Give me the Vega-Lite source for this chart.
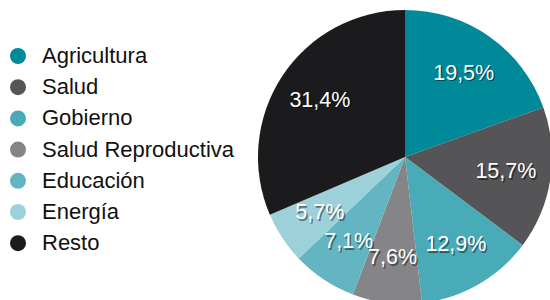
{
  "$schema": "https://vega.github.io/schema/vega-lite/v6.json",
  "width": 290,
  "height": 286,
  "autosize": {"type": "none"},
  "padding": {"left": 260, "top": 14, "right": 0, "bottom": 0},
  "background": "white",
  "config": {
    "view": {"stroke": null},
    "font": "Liberation Sans",
    "locale": {"number": {"decimal": ",", "thousands": ".", "grouping": [3], "currency": ["", " €"]}}
  },
  "data": {
    "values": [
      {"sector": "Agricultura", "share": 0.195, "order": 1},
      {"sector": "Salud", "share": 0.157, "order": 2},
      {"sector": "Gobierno", "share": 0.129, "order": 3},
      {"sector": "Salud Reproductiva", "share": 0.076, "order": 4},
      {"sector": "Educación", "share": 0.071, "order": 5},
      {"sector": "Energía", "share": 0.057, "order": 6},
      {"sector": "Resto", "share": 0.314, "order": 7}
    ]
  },
  "encoding": {
    "theta": {"field": "share", "type": "quantitative", "stack": true},
    "order": {"field": "order", "type": "quantitative"}
  },
  "layer": [
    {
      "mark": {"type": "arc", "outerRadius": 147},
      "encoding": {
        "color": {
          "field": "sector",
          "type": "nominal",
          "scale": {
            "domain": ["Agricultura", "Salud", "Gobierno", "Salud Reproductiva", "Educación", "Energía", "Resto"],
            "range": ["#008a99", "#555558", "#4aabb8", "#858588", "#63b6c1", "#9dd1d9", "#1b1a1d"]
          },
          "legend": {
            "title": null,
            "orient": "none",
            "legendX": -253,
            "legendY": 31,
            "padding": 0,
            "symbolType": "circle",
            "symbolSize": 256,
            "symbolStrokeWidth": 0,
            "labelFontSize": 22,
            "labelFont": "Liberation Sans",
            "labelColor": "#111111",
            "labelOffset": 13,
            "rowPadding": 9.2,
            "labelLimit": 300
          }
        }
      }
    },
    {
      "mark": {"type": "text", "radius": 102, "fontSize": 21.5, "fill": "#000000", "opacity": 0.45, "dx": 1.5, "dy": 1.5, "font": "Liberation Sans"},
      "encoding": {"text": {"field": "share", "type": "quantitative", "format": ".1%"}}
    },
    {
      "mark": {"type": "text", "radius": 102, "fontSize": 21.5, "fill": "#ffffff", "font": "Liberation Sans"},
      "encoding": {"text": {"field": "share", "type": "quantitative", "format": ".1%"}}
    }
  ]
}
